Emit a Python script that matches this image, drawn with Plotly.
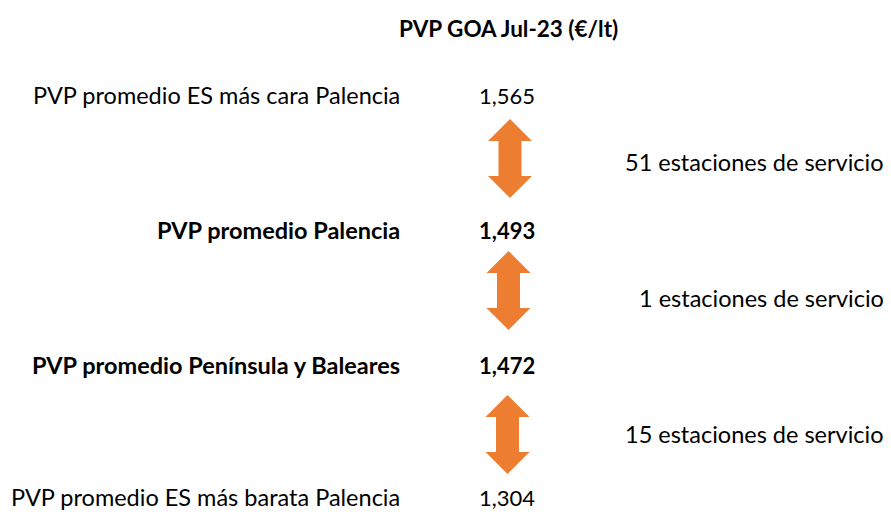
import plotly.graph_objects as go

title = "PVP GOA Jul-23 (€/lt)"
labels = ["PVP promedio ES más cara Palencia", "PVP promedio Palencia",
          "PVP promedio Península y Baleares", "PVP promedio ES más barata Palencia"]
values = [1.565, 1.493, 1.472, 1.304]
bold_rows = [False, True, True, False]
stations = [51, 1, 15]
station_text = "{} estaciones de servicio"

W, H = 891, 512
OFF = 8  # page body margin
FONT = "Lato"
FS = 23.5
FS_VAL = 22
FS_TITLE = 22.5
row_y = [95, 230, 365, 497]
arrow_top = [119, 251, 395]
arrow_len = 79
right_y = [162, 298, 434]
label_x = 402
value_x = 537
right_x = 886
arrow_cx = [510, 508.5, 507.5]
ORANGE = "#ED7D31"

fig = go.Figure()

def fmt(v):
    return f"{v:.3f}".replace(".", ",")

for lab, val, b, y in zip(labels, values, bold_rows, row_y):
    t = f"<b>{lab}</b>" if b else lab
    vt = f"<b>{fmt(val)}</b>" if b else fmt(val)
    fig.add_annotation(x=label_x, y=y, text=t, xanchor="right", yanchor="middle",
                       showarrow=False, font=dict(family=FONT, size=FS, color="#000"))
    fig.add_annotation(x=value_x, y=y, text=vt, xanchor="right", yanchor="middle",
                       showarrow=False, font=dict(family=FONT, size=FS_VAL, color="#000"))

for i, n in enumerate(stations):
    t = arrow_top[i]
    b = t + arrow_len
    cx = arrow_cx[i]
    hw, sw, hh = 22, 11.5, 22
    xs = [cx, cx + hw, cx + sw, cx + sw, cx + hw, cx,
          cx - hw, cx - sw, cx - sw, cx - hw, cx]
    ys = [t, t + hh, t + hh, b - hh, b - hh, b, b - hh, b - hh, t + hh, t + hh, t]
    fig.add_trace(go.Scatter(x=xs, y=ys, mode="lines", fill="toself", fillcolor=ORANGE,
                             line=dict(color=ORANGE, width=0), hoverinfo="skip", showlegend=False))
    fig.add_annotation(x=right_x, y=right_y[i], text=station_text.format(n), xanchor="right",
                       yanchor="middle", showarrow=False,
                       font=dict(family=FONT, size=FS, color="#000"))

fig.add_annotation(x=508, y=28, text=f"<b>{title}</b>", xanchor="center", yanchor="middle",
                   showarrow=False, font=dict(family=FONT, size=FS_TITLE, color="#000"))

fig.update_layout(width=W, height=H, margin=dict(l=0, r=0, t=0, b=0),
                  paper_bgcolor="white", plot_bgcolor="white",
                  xaxis=dict(range=[OFF, W + OFF], visible=False, fixedrange=True),
                  yaxis=dict(range=[H + OFF, OFF], visible=False, fixedrange=True))
fig.write_html("out.html")
